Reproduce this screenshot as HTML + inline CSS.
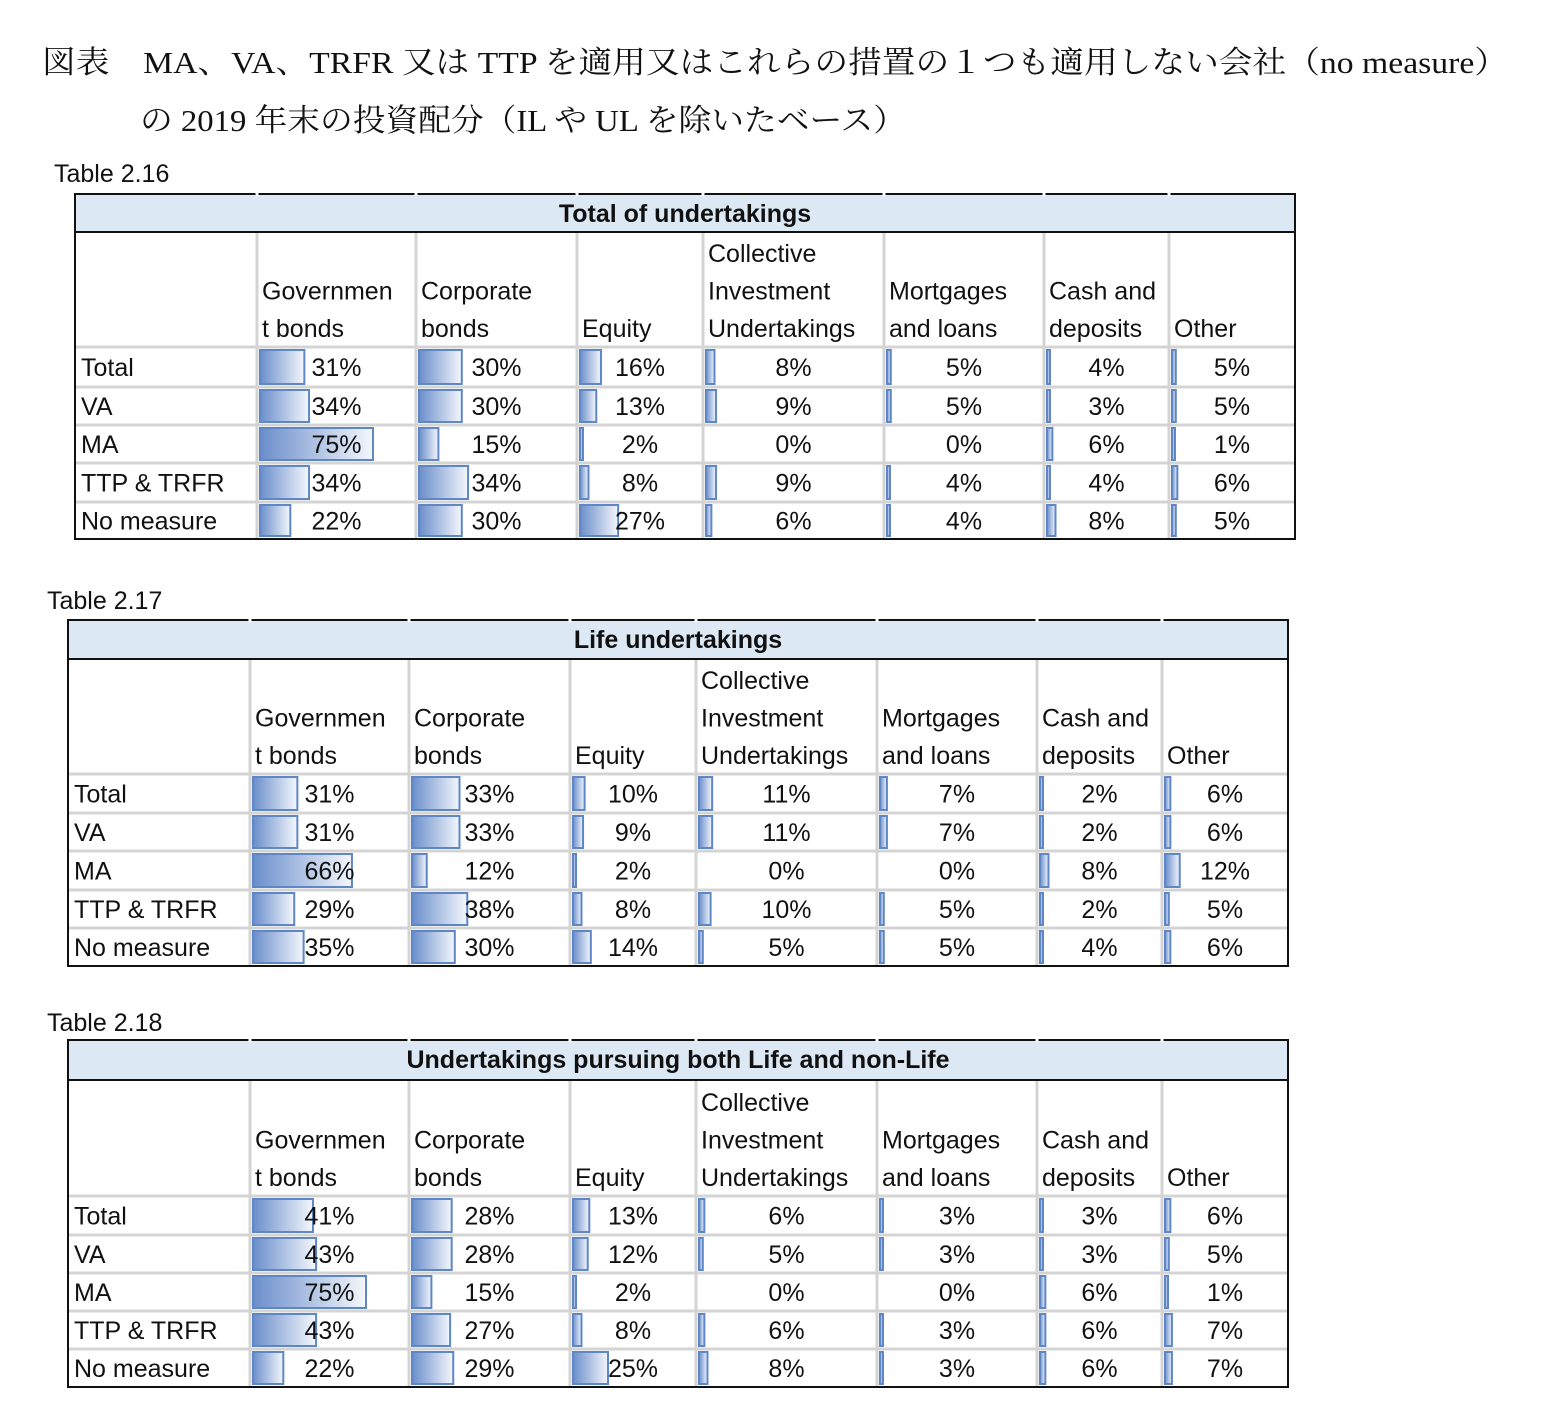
<!DOCTYPE html>
<html><head><meta charset="utf-8"><style>
body{margin:0;background:#fff;}
svg text{font-family:"Liberation Sans","DejaVu Sans",sans-serif;}
.jp{font-family:"Liberation Serif","Noto Serif CJK SC","Noto Sans CJK JP",serif;}
</style></head><body>
<svg id="c" width="1541" height="1420" viewBox="0 0 1541 1420" xmlns="http://www.w3.org/2000/svg">
<defs><linearGradient id="g" x1="0" x2="1" y1="0" y2="0"><stop offset="0" stop-color="#6a8ecb"/><stop offset="1" stop-color="#f4f7fc"/></linearGradient></defs>
<text class="jp" x="42" y="73" font-size="31" fill="#111" textLength="1466" lengthAdjust="spacingAndGlyphs">図表　MA、VA、TRFR 又は TTP を適用又はこれらの措置の１つも適用しない会社（no measure）</text>
<text class="jp" x="140" y="131" font-size="31" fill="#111" textLength="766" lengthAdjust="spacingAndGlyphs">の 2019 年末の投資配分（IL や UL を除いたベース）</text>
</svg>
<script>
const categories=["Governmen|t bonds","Corporate|bonds","Equity","Collective|Investment|Undertakings","Mortgages|and loans","Cash and|deposits","Other"];
const rowLabels=["Total","VA","MA","TTP & TRFR","No measure"];
const tableIds=["Table 2.16","Table 2.17","Table 2.18"];
const tableTitles=["Total of undertakings","Life undertakings","Undertakings pursuing both Life and non-Life"];
const valuesT16=[[31,30,16,8,5,4,5],[34,30,13,9,5,3,5],[75,15,2,0,0,6,1],[34,34,8,9,4,4,6],[22,30,27,6,4,8,5]];
const valuesT17=[[31,33,10,11,7,2,6],[31,33,9,11,7,2,6],[66,12,2,0,0,8,12],[29,38,8,10,5,2,5],[35,30,14,5,5,4,6]];
const valuesT18=[[41,28,13,6,3,3,6],[43,28,12,5,3,3,5],[75,15,2,0,0,6,1],[43,27,8,6,3,6,7],[22,29,25,8,3,6,7]];
const allValues=[valuesT16,valuesT17,valuesT18];

const svg=document.getElementById('c');
const NS="http://www.w3.org/2000/svg";
function mk(tag,attrs,parent){const e=document.createElementNS(NS,tag);for(const k in attrs)e.setAttribute(k,attrs[k]);(parent||svg).appendChild(e);return e;}
const layouts=[
 {lx:54,ly:182,x:[75,257,416,577,703,884,1044,1169,1295],top:194,hTop:232,hBot:347,rows:[347,387,425,463,502,539]},
 {lx:47,ly:609,x:[68,250,409,570,696,877,1037,1162,1288],top:620,hTop:659,hBot:774,rows:[774,813,851,890,928,966]},
 {lx:47,ly:1031,x:[68,250,409,570,696,877,1037,1162,1288],top:1040,hTop:1080,hBot:1196,rows:[1196,1235,1273,1311,1349,1387]}
];
function barW(v){return Math.max(3,v*1.56-4);}
layouts.forEach((L,t)=>{
  const g=mk('g',{});
  
  
  const lab=mk('text',{x:L.lx,y:L.ly,'font-size':25,fill:'#111'},g);lab.textContent=tableIds[t];
  
  
  const X=L.x,R=X[X.length-1];
  mk('rect',{x:X[0],y:L.top,width:R-X[0],height:L.hTop-L.top,fill:'#dce8f4'},g);
  const tt=mk('text',{x:(X[0]+R)/2,y:L.top+28,'font-size':25,'font-weight':'bold','text-anchor':'middle',fill:'#111'},g);tt.textContent=tableTitles[t];
  
  
  for(let i=1;i<X.length-1;i++) mk('line',{x1:X[i],x2:X[i],y1:L.hTop,y2:L.rows[5],stroke:'#d4d4d4','stroke-width':3},g);
  for(let r=1;r<5;r++) mk('line',{x1:X[0],x2:R,y1:L.rows[r],y2:L.rows[r],stroke:'#d4d4d4','stroke-width':3},g);
  mk('line',{x1:X[0],x2:R,y1:L.hBot,y2:L.hBot,stroke:'#d4d4d4','stroke-width':3},g);
  categories.forEach((c,j)=>{
    const lines=c.split('|');
    lines.forEach((ln,k)=>{
      const y=L.hBot-10-(lines.length-1-k)*37.5;
      const tx=mk('text',{x:X[j+1]+5,y:y,'font-size':25,fill:'#111'},g);tx.textContent=ln;
      
      
    });
  });
  const vals=allValues[t];
  rowLabels.forEach((rl,r)=>{
    const y0=L.rows[r],y1=L.rows[r+1];
    const tx=mk('text',{x:X[0]+6,y:(y0+y1)/2+9,'font-size':25,fill:'#111'},g);tx.textContent=rl;
    
    
    vals[r].forEach((v,j)=>{
      const cx=X[j+1];
      if(v>0){
        const b=mk('rect',{x:cx+3,y:y0+3,width:barW(v),height:y1-y0-6,fill:'url(#g)',stroke:'#5f87c6','stroke-width':2},g);
        
        
      }
      const vt=mk('text',{x:(X[j+1]+X[j+2])/2,y:(y0+y1)/2+9,'font-size':25,'text-anchor':'middle',fill:'#111'},g);vt.textContent=v+'%';
      
      
    });
  });
  mk('rect',{x:X[0],y:L.top,width:R-X[0],height:L.rows[5]-L.top,fill:'none',stroke:'#111','stroke-width':2},g);
  mk('line',{x1:X[0],x2:R,y1:L.hTop,y2:L.hTop,stroke:'#111','stroke-width':2},g);
  for(let i=1;i<X.length-1;i++) mk('line',{x1:X[i],x2:X[i],y1:L.top-2,y2:L.top+2,stroke:'#fff','stroke-width':3},g);
});
</script>
</body></html>
